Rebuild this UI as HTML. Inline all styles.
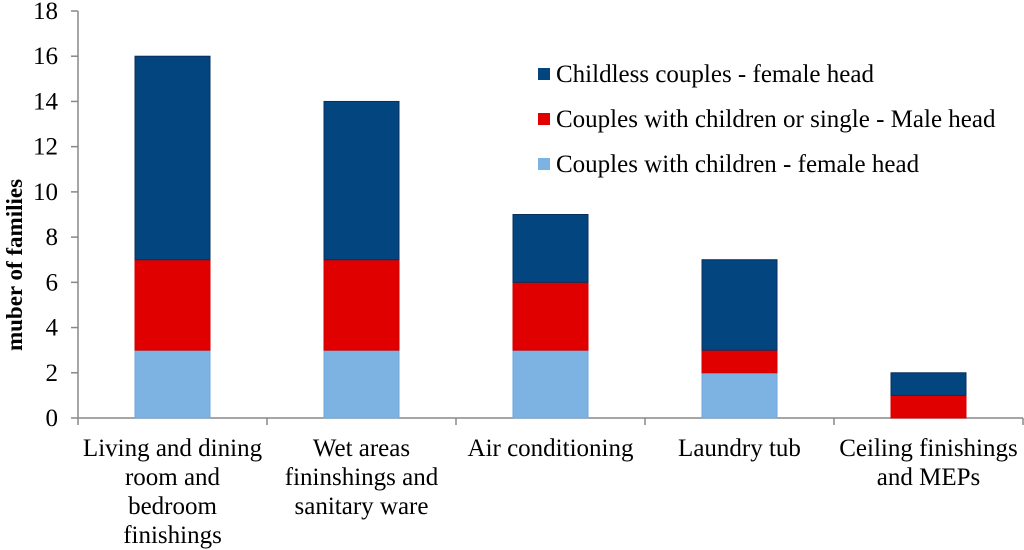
<!DOCTYPE html>
<html><head><meta charset="utf-8"><style>
body{margin:0;background:#fff;}
svg{display:block;}
svg text{font-family:"Liberation Serif","DejaVu Serif",serif;}
</style></head><body>
<svg id="chart" width="1024" height="550" font-family="Liberation Serif, serif"></svg>
<script>
const categories=[["Living and dining","room and","bedroom","finishings"],["Wet areas","fininshings and","sanitary ware"],["Air conditioning"],["Laundry tub"],["Ceiling finishings","and MEPs"]];
const seriesNames=["Couples with children - female head","Couples with children or single - Male head","Childless couples - female head"];
const femaleWithChildren=[3,3,3,2,0];
const maleHead=[4,4,3,1,1];
const childlessFemale=[9,7,3,4,1];
const yTicks=[0,2,4,6,8,10,12,14,16,18];
const colors=["#7db3e3","#e00000","#02457f"];
const NS="http://www.w3.org/2000/svg";
const svg=document.getElementById('chart');
const x0=78,x1=1023,y0=418,yTop=11,yMax=18;
const y=v=>y0-(y0-yTop)*v/yMax;
const catW=(x1-x0)/categories.length,barW=75;
const xc=i=>x0+catW*(i+0.5);
function mk(t,a){const e=document.createElementNS(NS,t);for(const k in a)e.setAttribute(k,a[k]);if(t==='text')e.setAttribute('font-family','Liberation Serif, serif');svg.appendChild(e);return e;}
let e;
e=mk('line',{x1:x0,y1:yTop,x2:x0,y2:y0,stroke:'#888','stroke-width':1.5});


e=mk('line',{x1:x0,y1:y0,x2:x1,y2:y0,stroke:'#888','stroke-width':1.5});


yTicks.forEach(v=>{
 e=mk('line',{x1:x0-7,y1:y(v),x2:x0,y2:y(v),stroke:'#888','stroke-width':1.5});
 
 
 e=mk('text',{x:x0-20,y:y(v)+8,'text-anchor':'end','font-size':25,fill:'#000'});e.textContent=v;
 
 
});
for(let i=0;i<=categories.length;i++){
 e=mk('line',{x1:x0+catW*i,y1:y0,x2:x0+catW*i,y2:y0+7,stroke:'#888','stroke-width':1.5});
 
 
}
const series=[femaleWithChildren,maleHead,childlessFemale];
categories.forEach((c,i)=>{
 let base=0;
 series.forEach((s,k)=>{
  const v=s[i];if(v<=0)return;
  e=mk('rect',{x:xc(i)-barW/2,y:y(base+v),width:barW,height:y(base)-y(base+v),fill:colors[k],stroke:k==0?'#6fa6d8':(k==1?'#d00000':'#0a2f5c'),'stroke-width':1});
  
  
  base+=v;
 });
 c.forEach((ln,j)=>{
  e=mk('text',{x:xc(i),y:y0+38+j*29,'text-anchor':'middle','font-size':25,fill:'#000'});e.textContent=ln;
  
  
 });
});
e=mk('text',{x:0,y:0,transform:'translate(22,265) rotate(-90)','text-anchor':'middle','font-size':23,'font-weight':'bold',fill:'#000'});e.textContent='muber of families';


[2,1,0].forEach((k,j)=>{
 const ly=74+j*45;
 e=mk('rect',{x:538,y:ly-6,width:12,height:12,fill:colors[k]});
 
 
 e=mk('text',{x:556,y:ly+8,'font-size':25,fill:'#000'});e.textContent=seriesNames[k];
 
 
});
</script>
</body></html>
